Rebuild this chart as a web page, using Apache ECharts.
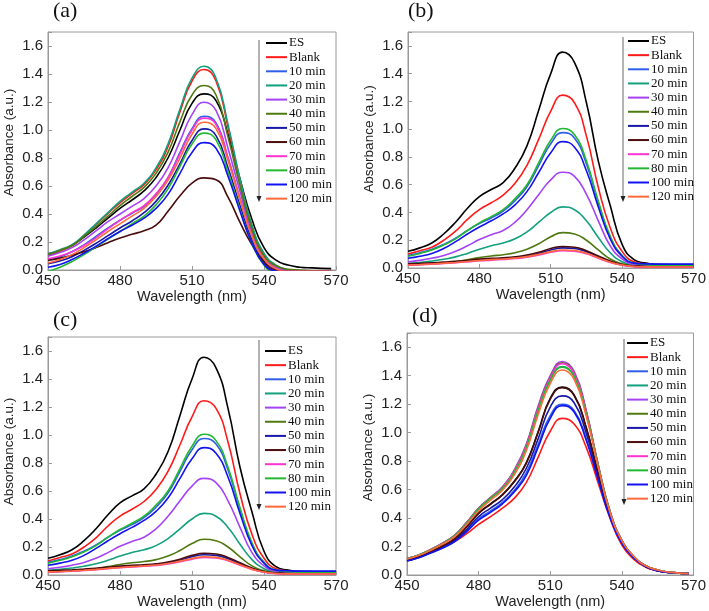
<!DOCTYPE html>
<html>
<head>
<meta charset="utf-8">
<script src="https://cdn.jsdelivr.net/npm/echarts@6/dist/echarts.min.js"></script>
<style>
  html, body { margin: 0; padding: 0; background: #fff; }
  #chart { width: 709px; height: 611px; }
</style>
</head>
<body>
<div id="chart"></div>
<script>
// wavelength grid (nm)
const wlA = [450, 455, 460, 465, 470, 475, 480, 485, 490, 495, 500, 505, 510, 515, 520, 525, 530, 535, 540, 545, 550, 555, 560, 568];
const wlB = [450, 455, 460, 465, 470, 475, 480, 485, 490, 495, 500, 505, 510, 515, 520, 525, 530, 535, 540, 545, 550, 555, 560, 570];

const seriesNames = ['ES', 'Blank', '10 min', '20 min', '30 min', '40 min', '50 min', '60 min', '70 min', '80 min', '100 min', '120 min'];

// panel (a)
const absA = [
  [0.115, 0.14, 0.175, 0.235, 0.30, 0.37, 0.44, 0.50, 0.565, 0.66, 0.80, 1.00, 1.19, 1.258, 1.21, 0.97, 0.65, 0.36, 0.16, 0.07, 0.035, 0.02, 0.015, 0.01],
  [0.10, 0.135, 0.175, 0.245, 0.325, 0.405, 0.48, 0.545, 0.61, 0.715, 0.88, 1.13, 1.35, 1.432, 1.35, 1.02, 0.64, 0.31, 0.11, 0.03, 0.0, -0.01, -0.01, -0.01],
  [0.07, 0.095, 0.13, 0.18, 0.24, 0.30, 0.355, 0.405, 0.455, 0.54, 0.66, 0.84, 1.01, 1.098, 1.05, 0.80, 0.51, 0.24, 0.07, 0.005, -0.02, -0.02, -0.02, -0.02],
  [0.115, 0.145, 0.18, 0.25, 0.33, 0.41, 0.49, 0.555, 0.62, 0.73, 0.90, 1.15, 1.37, 1.455, 1.37, 1.04, 0.65, 0.32, 0.12, 0.035, 0.0, -0.01, -0.01, -0.01],
  [0.10, 0.125, 0.16, 0.215, 0.28, 0.345, 0.40, 0.455, 0.51, 0.60, 0.73, 0.92, 1.11, 1.198, 1.14, 0.87, 0.56, 0.27, 0.09, 0.02, 0.0, -0.01, -0.015, -0.02],
  [0.11, 0.14, 0.175, 0.24, 0.31, 0.385, 0.46, 0.525, 0.59, 0.69, 0.84, 1.06, 1.25, 1.318, 1.25, 0.95, 0.60, 0.29, 0.10, 0.03, 0.005, 0.0, -0.005, -0.01],
  [0.045, 0.065, 0.095, 0.14, 0.19, 0.245, 0.30, 0.35, 0.41, 0.49, 0.605, 0.76, 0.925, 1.008, 0.96, 0.73, 0.46, 0.21, 0.05, -0.01, -0.02, -0.02, -0.02, -0.02],
  [0.07, 0.085, 0.105, 0.13, 0.16, 0.195, 0.228, 0.255, 0.28, 0.32, 0.42, 0.53, 0.62, 0.658, 0.645, 0.52, 0.34, 0.18, 0.06, 0.0, -0.01, -0.01, -0.01, -0.01],
  [0.08, 0.10, 0.13, 0.175, 0.23, 0.295, 0.355, 0.41, 0.46, 0.545, 0.66, 0.83, 1.00, 1.085, 1.04, 0.80, 0.51, 0.245, 0.08, 0.01, -0.01, -0.01, -0.01, -0.01],
  [-0.01, 0.02, 0.06, 0.11, 0.165, 0.22, 0.275, 0.33, 0.385, 0.465, 0.58, 0.74, 0.90, 0.978, 0.93, 0.70, 0.43, 0.19, 0.035, -0.02, -0.02, -0.02, -0.02, -0.02],
  [0.02, 0.04, 0.075, 0.12, 0.17, 0.225, 0.275, 0.32, 0.37, 0.44, 0.54, 0.69, 0.84, 0.91, 0.87, 0.67, 0.42, 0.19, 0.04, -0.01, -0.02, -0.02, -0.02, -0.02],
  [0.05, 0.075, 0.11, 0.16, 0.215, 0.275, 0.33, 0.385, 0.44, 0.525, 0.64, 0.80, 0.97, 1.055, 1.01, 0.78, 0.50, 0.24, 0.08, 0.01, -0.01, -0.01, -0.01, -0.01]
];

// panel (b) - panel (c) shows the same spectra
const absB = [
  [0.12, 0.145, 0.18, 0.245, 0.33, 0.43, 0.515, 0.565, 0.615, 0.72, 0.88, 1.14, 1.40, 1.555, 1.48, 1.19, 0.77, 0.45, 0.17, 0.06, 0.035, 0.025, 0.02, 0.015],
  [0.10, 0.125, 0.15, 0.20, 0.265, 0.35, 0.42, 0.47, 0.525, 0.61, 0.74, 0.93, 1.13, 1.245, 1.19, 0.95, 0.58, 0.29, 0.12, 0.045, 0.03, 0.025, 0.02, 0.02],
  [0.09, 0.11, 0.135, 0.17, 0.215, 0.27, 0.32, 0.36, 0.41, 0.485, 0.585, 0.74, 0.895, 0.975, 0.935, 0.75, 0.47, 0.22, 0.09, 0.035, 0.028, 0.027, 0.026, 0.025],
  [0.034, 0.04, 0.05, 0.063, 0.08, 0.105, 0.135, 0.16, 0.18, 0.21, 0.26, 0.33, 0.40, 0.44, 0.42, 0.34, 0.22, 0.11, 0.045, 0.02, 0.012, 0.01, 0.01, 0.01],
  [0.045, 0.055, 0.07, 0.09, 0.12, 0.16, 0.205, 0.24, 0.27, 0.33, 0.42, 0.53, 0.635, 0.69, 0.66, 0.53, 0.34, 0.16, 0.065, 0.025, 0.015, 0.012, 0.012, 0.012],
  [0.02, 0.025, 0.03, 0.037, 0.045, 0.06, 0.075, 0.087, 0.096, 0.11, 0.135, 0.175, 0.225, 0.255, 0.245, 0.20, 0.13, 0.065, 0.03, 0.015, 0.01, 0.008, 0.008, 0.008],
  [0.025, 0.028, 0.032, 0.037, 0.043, 0.05, 0.058, 0.063, 0.068, 0.075, 0.087, 0.105, 0.13, 0.145, 0.14, 0.117, 0.08, 0.045, 0.022, 0.012, 0.008, 0.007, 0.007, 0.007],
  [0.03, 0.033, 0.037, 0.042, 0.048, 0.056, 0.064, 0.069, 0.073, 0.08, 0.093, 0.113, 0.14, 0.155, 0.15, 0.125, 0.087, 0.05, 0.025, 0.014, 0.01, 0.01, 0.01, 0.01],
  [0.02, 0.023, 0.027, 0.032, 0.038, 0.045, 0.052, 0.057, 0.062, 0.068, 0.078, 0.094, 0.113, 0.125, 0.121, 0.102, 0.07, 0.04, 0.02, 0.01, 0.007, 0.006, 0.006, 0.006],
  [0.085, 0.105, 0.13, 0.165, 0.21, 0.27, 0.325, 0.37, 0.42, 0.50, 0.60, 0.76, 0.92, 1.005, 0.96, 0.77, 0.48, 0.23, 0.09, 0.035, 0.025, 0.02, 0.02, 0.02],
  [0.07, 0.085, 0.105, 0.14, 0.19, 0.245, 0.295, 0.34, 0.39, 0.455, 0.55, 0.69, 0.83, 0.91, 0.87, 0.70, 0.44, 0.21, 0.085, 0.035, 0.03, 0.028, 0.028, 0.028],
  [0.022, 0.025, 0.029, 0.034, 0.04, 0.047, 0.054, 0.06, 0.065, 0.071, 0.082, 0.099, 0.118, 0.13, 0.126, 0.106, 0.073, 0.042, 0.021, 0.011, 0.008, 0.007, 0.007, 0.007]
];
const absC = absB;

// panel (d)
const absD = [
  [0.105, 0.13, 0.165, 0.205, 0.255, 0.34, 0.435, 0.50, 0.565, 0.66, 0.79, 1.01, 1.24, 1.32, 1.265, 1.04, 0.72, 0.43, 0.235, 0.125, 0.06, 0.03, 0.018, 0.01],
  [0.10, 0.125, 0.16, 0.195, 0.235, 0.29, 0.355, 0.41, 0.47, 0.54, 0.65, 0.83, 1.01, 1.10, 1.06, 0.90, 0.65, 0.40, 0.21, 0.11, 0.055, 0.03, 0.018, 0.01],
  [0.10, 0.125, 0.158, 0.195, 0.24, 0.31, 0.395, 0.45, 0.51, 0.595, 0.72, 0.92, 1.12, 1.20, 1.155, 0.96, 0.68, 0.41, 0.225, 0.12, 0.06, 0.03, 0.018, 0.01],
  [0.115, 0.14, 0.178, 0.222, 0.277, 0.365, 0.465, 0.54, 0.61, 0.725, 0.90, 1.16, 1.37, 1.465, 1.40, 1.14, 0.775, 0.445, 0.24, 0.13, 0.065, 0.035, 0.02, 0.01],
  [0.115, 0.14, 0.18, 0.225, 0.28, 0.37, 0.47, 0.545, 0.62, 0.74, 0.92, 1.19, 1.40, 1.50, 1.43, 1.16, 0.78, 0.45, 0.245, 0.13, 0.065, 0.035, 0.02, 0.01],
  [0.115, 0.14, 0.18, 0.224, 0.279, 0.368, 0.468, 0.543, 0.617, 0.735, 0.915, 1.18, 1.39, 1.49, 1.42, 1.155, 0.778, 0.448, 0.243, 0.13, 0.065, 0.035, 0.02, 0.01],
  [0.10, 0.125, 0.16, 0.20, 0.245, 0.32, 0.41, 0.47, 0.53, 0.62, 0.75, 0.96, 1.18, 1.258, 1.21, 1.00, 0.70, 0.42, 0.23, 0.125, 0.06, 0.03, 0.018, 0.01],
  [0.105, 0.13, 0.165, 0.205, 0.255, 0.338, 0.432, 0.497, 0.562, 0.656, 0.786, 1.005, 1.235, 1.315, 1.26, 1.036, 0.718, 0.43, 0.235, 0.125, 0.06, 0.03, 0.018, 0.01],
  [0.115, 0.14, 0.179, 0.224, 0.279, 0.367, 0.467, 0.542, 0.616, 0.733, 0.912, 1.175, 1.385, 1.485, 1.415, 1.15, 0.776, 0.447, 0.243, 0.13, 0.065, 0.035, 0.02, 0.01],
  [0.115, 0.14, 0.178, 0.222, 0.277, 0.364, 0.464, 0.539, 0.609, 0.724, 0.898, 1.158, 1.368, 1.46, 1.395, 1.138, 0.774, 0.445, 0.24, 0.13, 0.065, 0.035, 0.02, 0.01],
  [0.098, 0.122, 0.155, 0.19, 0.235, 0.305, 0.385, 0.44, 0.50, 0.585, 0.70, 0.90, 1.10, 1.19, 1.145, 0.95, 0.675, 0.405, 0.222, 0.12, 0.06, 0.03, 0.018, 0.01],
  [0.112, 0.138, 0.175, 0.218, 0.27, 0.355, 0.45, 0.525, 0.595, 0.705, 0.875, 1.13, 1.345, 1.44, 1.375, 1.12, 0.765, 0.44, 0.24, 0.13, 0.065, 0.035, 0.02, 0.01]
];

const lineColors = ['#000000', '#ff1a1a', '#2f5fe8', '#12a07e', '#a542f5', '#4f7a12', '#1818a8', '#4a0c0c', '#ff33d2', '#22b832', '#1212f0', '#ff6a3a'];

const panels = [
  { tag: '(a)', wl: wlA, abs: absA, grid: { left: 48, top: 32, width: 288, height: 238 }, legend: [266, 36], arrow: [259, 40, 202], tagPos: [53, 0], nameShift: 17 },
  { tag: '(b)', wl: wlB, abs: absB, grid: { left: 408, top: 32, width: 289, height: 236 }, legend: [628, 34], arrow: [623, 37, 202], tagPos: [408, 0], nameShift: 22 },
  { tag: '(c)', wl: wlB, abs: absC, grid: { left: 48, top: 337, width: 288, height: 238 }, legend: [265, 344], arrow: [259, 340, 510], tagPos: [53, 309], nameShift: 9 },
  { tag: '(d)', wl: wlA, abs: absD, grid: { left: 407, top: 333, width: 289, height: 242 }, legend: [627, 336], arrow: [624, 339, 505], tagPos: [412, 305], nameShift: 13 }
];

const chart = echarts.init(document.getElementById('chart'), null, { renderer: 'canvas' });

const grids = [], xAxes = [], yAxes = [], series = [], legends = [], titles = [], graphics = [];
const axisGray = '#9a9a9a';

panels.forEach(function (p, k) {
  grids.push(Object.assign({ show: true, borderColor: axisGray, borderWidth: 1 }, p.grid));
  xAxes.push({
    type: 'value', gridIndex: k, min: 450, max: 570, interval: 30,
    name: 'Wavelength (nm)', nameLocation: 'middle', nameGap: 19,
    nameTextStyle: { fontFamily: 'Liberation Sans', fontSize: 14.5, color: '#222' },
    axisLine: { show: true, lineStyle: { color: axisGray } },
    axisTick: { show: true, inside: true, length: 4, lineStyle: { color: axisGray } },
    axisLabel: { fontFamily: 'Liberation Sans', fontSize: 15, color: '#222', margin: 3 },
    splitLine: { show: false }
  });
  yAxes.push({
    type: 'value', gridIndex: k, min: 0, max: 1.7, interval: 0.2,
    name: 'Absorbance (a.u.)', nameLocation: 'middle', nameGap: 32, nameRotate: 90,
    nameTextStyle: { fontFamily: 'Liberation Sans', fontSize: 13.5, color: '#222', padding: [0, 0, 0, p.nameShift] },
    axisLine: { show: true, lineStyle: { color: axisGray } },
    axisTick: { show: true, inside: true, length: 4, lineStyle: { color: axisGray } },
    axisLabel: {
      fontFamily: 'Liberation Sans', fontSize: 15, color: '#222', margin: 5,
      formatter: function (v) { return Math.round(v * 10) % 2 === 0 ? v.toFixed(1) : ''; }
    },
    splitLine: { show: false }
  });
  p.abs.forEach(function (row, i) {
    series.push({
      name: seriesNames[i], type: 'line', xAxisIndex: k, yAxisIndex: k,
      data: p.wl.map(function (w, j) { return [w, row[j]]; }),
      smooth: 0.5, symbol: 'none', clip: true,
      lineStyle: { color: lineColors[i], width: 1.6 },
      itemStyle: { color: lineColors[i] }
    });
  });
  legends.push({
    orient: 'vertical', left: p.legend[0], top: p.legend[1], padding: 0,
    icon: 'rect', itemWidth: 21, itemHeight: 2, itemGap: 0.15,
    data: seriesNames,
    textStyle: { fontFamily: 'Liberation Serif', fontSize: 13, lineHeight: 14, color: '#111', padding: [0, 0, 0, -3] },
    selectedMode: false
  });
  titles.push({
    text: p.tag, left: p.tagPos[0], top: p.tagPos[1], padding: 0,
    textStyle: { fontFamily: 'Liberation Serif', fontSize: 22, fontWeight: 'normal', color: '#111' }
  });
  // downward arrow beside the legend
  graphics.push({
    type: 'line', shape: { x1: p.arrow[0], y1: p.arrow[1], x2: p.arrow[0], y2: p.arrow[2] - 4 },
    style: { stroke: '#666', lineWidth: 1 }
  });
  graphics.push({
    type: 'polygon',
    shape: { points: [[p.arrow[0] - 2.5, p.arrow[2] - 6], [p.arrow[0] + 2.5, p.arrow[2] - 6], [p.arrow[0], p.arrow[2]]] },
    style: { fill: '#222' }
  });
});

chart.setOption({
  animation: false,
  backgroundColor: '#fff',
  title: titles,
  legend: legends,
  grid: grids,
  xAxis: xAxes,
  yAxis: yAxes,
  series: series,
  graphic: graphics
});
</script>
</body>
</html>
